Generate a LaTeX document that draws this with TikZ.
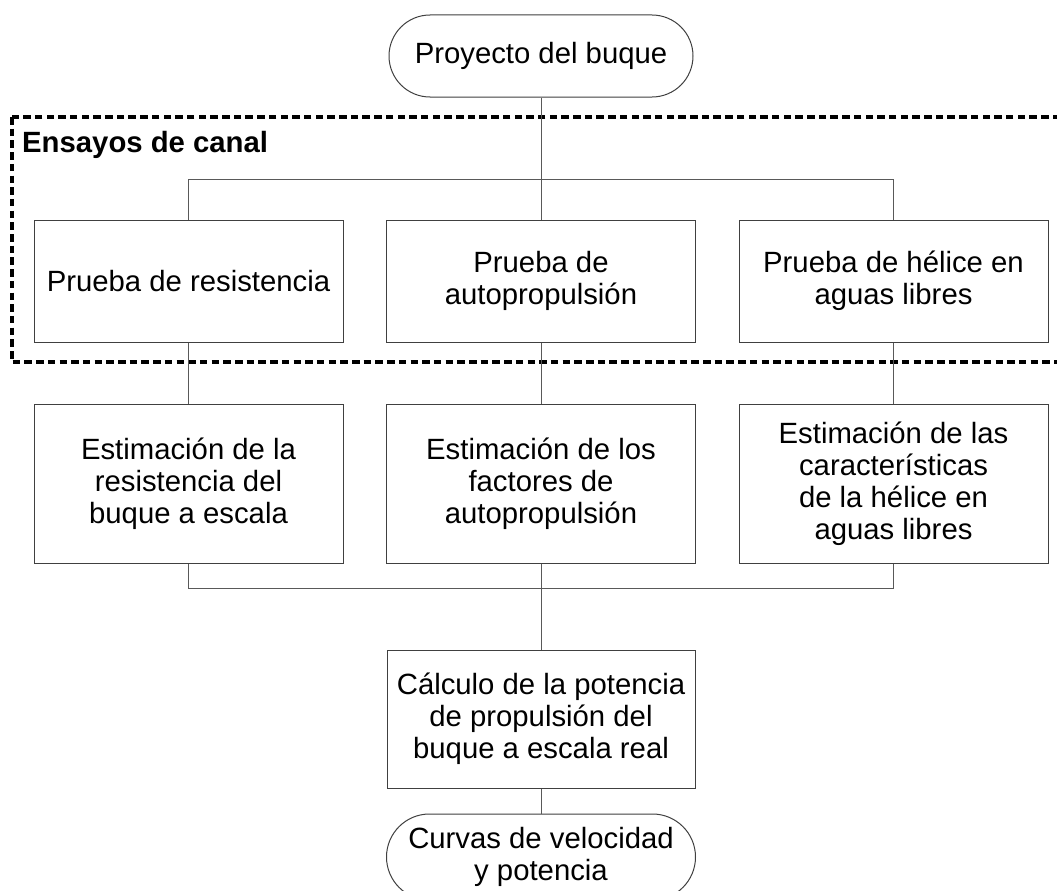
\documentclass[tikz,border=0pt]{standalone}
\usepackage{fontspec}
\setmainfont{Liberation Sans}
\begin{document}
\begin{tikzpicture}[x=1pt,y=-1pt,
  every node/.style={font=\fontsize{29.3}{32}\selectfont, align=center, inner sep=0pt},
  boxa/.style={draw=black!75, line width=1pt, minimum width=309pt, minimum height=122pt},
  boxb/.style={draw=black!75, line width=1pt, minimum width=309pt, minimum height=159pt},
  boxc/.style={draw=black!75, line width=1pt, minimum width=308pt, minimum height=138pt},
  term/.style={draw=black!75, line width=1pt, rounded corners=41pt, minimum width=304pt, minimum height=82pt},
  conn/.style={draw=black!65, line width=1pt},
  group/.style={draw=black, line width=3.2pt, dash pattern=on 7.5pt off 4.2pt}
]
\clip (0,0) rectangle (1057,891);
\fill[white] (0,0) rectangle (1057,891);

% group frame
\draw[group] (12,117) rectangle (1075,362);
\node[font=\fontsize{29.3}{32}\selectfont\bfseries, anchor=base west] (glabel) at (22,152) {Ensayos de canal};

% nodes
\node[term] (top) at (541,56) {Proyecto del buque};

\node[boxa] (r1a) at (188.5,281) {Prueba de resistencia};
\node[boxa] (r1b) at (541,281) {Prueba de\\autopropulsión};
\node[boxa] (r1c) at (893.5,281) {Prueba de hélice en\\aguas libres};

\node[boxb] (r2a) at (188.5,483.5) {Estimación de la\\resistencia del\\buque a escala};
\node[boxb] (r2b) at (541,483.5) {Estimación de los\\factores de\\autopropulsión};
\node[boxb] (r2c) at (893.5,483.5) {Estimación de las\\características\\de la hélice en\\aguas libres};

\node[boxc] (calc) at (541,719) {Cálculo de la potencia\\de propulsión del\\buque a escala real};

\node[term, rounded corners=43pt, minimum width=309pt, minimum height=86pt] (bot) at (541,857) {Curvas de velocidad\\y potencia};

% junction coordinates
\coordinate (ja) at (188.5,179);
\coordinate (jc) at (893.5,179);
\coordinate (ka) at (188.5,588);
\coordinate (kc) at (893.5,588);

% connectors
\draw[conn] (top.south) -- (r1b.north);
\draw[conn] (ja) -- (jc);
\draw[conn] (ja) -- (r1a.north);
\draw[conn] (jc) -- (r1c.north);

\draw[conn] (r1a.south) -- (r2a.north);
\draw[conn] (r1b.south) -- (r2b.north);
\draw[conn] (r1c.south) -- (r2c.north);

\draw[conn] (r2a.south) -- (ka) -- (kc) -- (r2c.south);
\draw[conn] (r2b.south) -- (calc.north);
\draw[conn] (calc.south) -- (bot.north);
\end{tikzpicture}
\end{document}
